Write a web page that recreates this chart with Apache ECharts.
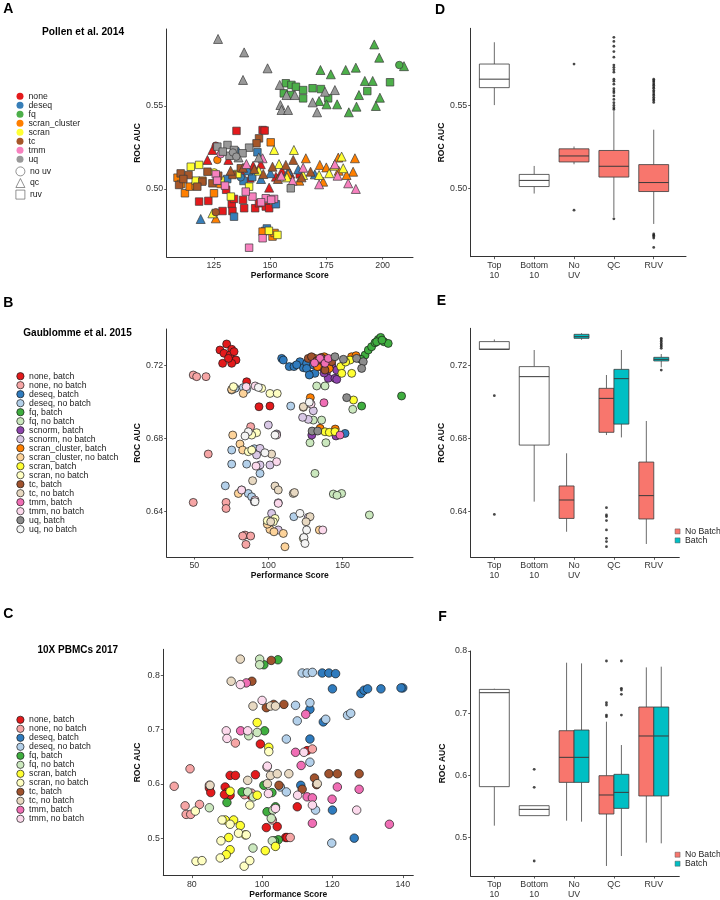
<!DOCTYPE html>
<html><head><meta charset="utf-8">
<script src="https://cdn.jsdelivr.net/npm/echarts@6/dist/echarts.min.js"></script>
<style>html,body{margin:0;padding:0;background:#fff}#c{width:720px;height:900px}</style>
</head><body><div id="c"></div>
<script>
// ---------------- Panel A data: [performance score, ROC AUC, shape] (c = no uv, t = qc, s = ruv)
const A_none = [[135.1,.5350,'s'],[146.7,.5355,'s'],[147.6,.5352,'s'],[118.5,.4924,'s'],[122.6,.4928,'s'],[128.9,.4867,'s'],[133.0,.4908,'s'],[133.3,.4867,'s'],[138.5,.4884,'s'],[143.4,.4884,'s'],[145.1,.4914,'s'],[148.1,.4894,'s'],[149.6,.4884,'s'],[138.0,.4934,'s'],[134.0,.4940,'s'],[163.2,.5088,'s'],[130.5,.4995,'s'],
  [124.4,.5235,'t'],[122.2,.5175,'t'],[131.5,.5175,'t'],[142.5,.5140,'t'],[145.9,.5149,'t'],[152.6,.5074,'t'],[149.6,.5008,'t'],[137.2,.5102,'t'],[155.3,.5110,'t'],[159.0,.5092,'t'],[141.0,.5068,'t'],[125.9,.5261,'c']];
const A_deseq = [[144.4,.5221,'s'],[134.0,.4833,'s'],[147.8,.4747,'s'],[152.6,.4908,'s'],[148.6,.4762,'s'],[138.2,.5048,'s'],[142.1,.5072,'s'],[131.0,.5060,'s'],
  [119.2,.4819,'t'],[169.9,.5088,'t'],[140.3,.5112,'t'],[150.2,.5095,'t'],[136.0,.5225,'t'],[158.1,.5108,'t'],[146.0,.5060,'t'],[162.5,.5118,'t'],[137.0,.5070,'c']];
const A_fq = [[157.0,.5637,'s'],[159.5,.5627,'s'],[161.5,.5616,'s'],[156.1,.5576,'s'],[159.1,.5566,'s'],[164.7,.5596,'s'],[164.7,.5546,'s'],[168.9,.5607,'s'],[172.6,.5602,'s'],[175.8,.5546,'s'],[193.2,.5590,'s'],[203.3,.5643,'s'],
  [172.4,.5717,'t'],[177.0,.5691,'t'],[183.6,.5717,'t'],[188.1,.5731,'t'],[196.3,.5871,'t'],[198.5,.5791,'t'],[192.1,.5651,'t'],[195.6,.5651,'t'],[189.5,.5566,'t'],[198.8,.5550,'t'],[197.0,.5500,'t'],[188.4,.5496,'t'],[185.0,.5462,'t'],[179.8,.5510,'t'],[175.1,.5510,'t'],[171.8,.5530,'t'],[209.5,.5740,'t'],[207.4,.5747,'c']];
const A_scran_cluster = [[150.3,.5281,'s'],[108.9,.5068,'s'],[112.2,.4974,'s'],[114.3,.5014,'s'],[117.0,.5020,'s'],[125.1,.4974,'s'],[151.1,.4713,'s'],[146.7,.4743,'s'],[110.5,.5030,'s'],[120.0,.5050,'s'],[128.0,.5030,'s'],[152.0,.4735,'s'],
  [125.9,.4823,'t'],[187.7,.5185,'t'],[180.3,.5189,'t'],[165.9,.5185,'t'],[172.1,.5145,'t'],[186.9,.5104,'t'],[173.6,.5044,'t'],[184.0,.5084,'t'],[158.0,.5090,'t'],[175.0,.5130,'t'],[163.0,.5050,'t'],[180.5,.5110,'t'],[126.6,.5175,'c']];
const A_scran = [[114.8,.5134,'s'],[118.5,.5145,'s'],[132.6,.4954,'s'],[140.7,.5014,'s'],[153.3,.4723,'s'],[149.5,.4748,'s'],[117.0,.5050,'s'],[128.0,.5050,'s'],[135.5,.5090,'s'],
  [124.4,.4853,'t'],[151.8,.5235,'t'],[160.6,.5235,'t'],[181.8,.5195,'t'],[182.5,.5125,'t'],[176.3,.5095,'t'],[171.8,.5084,'t'],[164.7,.5084,'t'],[154.0,.5150,'t'],[145.0,.5110,'t'],[178.5,.5140,'t'],[157.5,.5070,'t'],[125.2,.5100,'c']];
const A_tc = [[145.1,.5305,'s'],[144.0,.5275,'s'],[110.3,.5094,'s'],[109.6,.5024,'s'],[113.8,.5084,'s'],[122.2,.5104,'s'],[124.4,.5034,'s'],[119.9,.5044,'s'],[117.7,.5014,'s'],[137.0,.5125,'s'],[133.3,.5084,'s'],[127.0,.5080,'s'],[111.5,.5060,'s'],
  [138.0,.5128,'t'],[151.1,.5134,'t'],[157.0,.5145,'t'],[168.0,.5104,'t'],[160.3,.5175,'t'],[147.0,.5090,'t'],[164.0,.5070,'t'],[132.5,.5110,'t'],[143.0,.5120,'t'],[153.5,.5060,'t'],[125.9,.4860,'c']];
const A_tmm = [[125.9,.5088,'s'],[126.5,.5050,'s'],[142.2,.4954,'s'],[148.1,.4944,'s'],[140.7,.4646,'s'],[146.7,.4703,'s'],[151.8,.4940,'s'],[139.2,.4984,'s'],[146.0,.4920,'s'],[130.0,.5020,'s'],[150.5,.4935,'s'],
  [146.7,.5185,'t'],[178.8,.5149,'t'],[171.8,.5028,'t'],[184.7,.5034,'t'],[188.1,.5000,'t'],[164.7,.5128,'t'],[155.0,.5080,'t'],[160.0,.5050,'t'],[180.0,.5080,'t'],[139.5,.5150,'t'],[128.1,.5209,'c']];
const A_uq = [[126.6,.5255,'s'],[131.1,.5265,'s'],[134.0,.5235,'s'],[140.7,.5249,'s'],[137.8,.5215,'s'],[159.2,.5004,'s'],[132.0,.5200,'s'],[129.0,.5225,'s'],
  [126.9,.5904,'t'],[138.5,.5823,'t'],[148.9,.5727,'t'],[138.0,.5657,'t'],[154.3,.5627,'t'],[154.6,.5506,'t'],[155.1,.5476,'t'],[158.0,.5476,'t'],[157.3,.5566,'t'],[161.0,.5566,'t'],[168.9,.5522,'t'],[170.9,.5462,'t'],[174.4,.5586,'t'],[178.8,.5596,'t'],[145.0,.5190,'t'],[136.0,.5190,'t'],
  [133.5,.5220,'c'],[135.0,.5195,'c']];
const A_methods = ['none','deseq','fq','scran_cluster','scran','tc','tmm','uq'];
const A_shapes = ['no uv','qc','ruv'];
const A_x_ticks = [125,150,175,200];
const A_y_ticks = [0.50,0.55];

// ---------------- Panel B data: [performance score, ROC AUC]
const B_none_batch = [[67.3,.7286],[71.8,.7319],[75.2,.7290],[70.0,.7268],[74.1,.7258],[78.1,.7231],[69.1,.7213],[75.2,.7213],[73.0,.7240],[76.8,.7277],[85.3,.7112],[93.6,.6975],[101.0,.6979]];
const B_none_nobatch = [[49.3,.7149],[51.6,.7140],[57.9,.7140],[59.4,.6716],[49.3,.6451],[71.4,.6451],[71.4,.6418],[84.2,.6272],[82.6,.6267],[88.0,.6267],[84.8,.6221],[88.0,.6866]];
const B_deseq_batch = [[108.9,.7240],[110.0,.7231],[114.0,.7195],[117.2,.7195],[121.2,.7222],[123.5,.7189],[125.7,.7213],[128.0,.7153],[130.2,.7204],[125.7,.7185],[131.3,.7158],[151.6,.6829],[119.0,.7205],[127.5,.7149]];
const B_deseq_nobatch = [[77.5,.7076],[75.2,.7067],[85.3,.7070],[115.0,.6979],[75.2,.6738],[75.2,.6661],[85.3,.6661],[94.3,.6610],[70.9,.6542],[86.4,.6500],[88.7,.6482],[117.1,.6373],[83.0,.7080],[90.5,.6745]];
const B_fq_batch = [[165.1,.7258],[167.3,.7286],[169.5,.7304],[171.8,.7326],[174.0,.7344],[175.6,.7355],[177.8,.7331],[180.7,.7322],[172.9,.7331],[162.3,.7235],[189.7,.7034],[162.8,.6979],[176.5,.7340]];
const B_fq_nobatch = [[132.5,.7089],[138.1,.7089],[130.2,.6902],[135.8,.6902],[128.0,.6778],[138.7,.6778],[131.3,.6610],[143.7,.6497],[149.3,.6500],[168.0,.6382],[156.8,.6961],[146.2,.6490]];
const B_scnorm_batch = [[135.8,.7222],[134.7,.7195],[139.2,.7167],[140.3,.7131],[144.8,.7131],[132.5,.7204],[142.6,.7204],[146.0,.7176],[146.0,.7125],[129.2,.6820],[145.5,.6815],[137.5,.7160]];
const B_scnorm_nobatch = [[99.9,.6875],[105.5,.6826],[94.3,.6747],[92.0,.6711],[101.0,.6656],[94.3,.6656],[81.9,.6519],[90.5,.6455],[102.1,.6391],[106.6,.6449],[126.8,.6369],[106.6,.6300],[130.2,.6953],[126.8,.6906],[123.0,.6917]];
const B_scranc_batch = [[131.3,.7240],[137.6,.7249],[140.9,.7185],[156.0,.7249],[128.2,.7025],[145.0,.6853],[134.8,.6857],[159.0,.7255],[133.0,.7195]];
const B_scranc_nobatch = [[75.2,.7070],[83.0,.7048],[80.8,.6771],[75.9,.6820],[82.6,.6738],[79.7,.6500],[101.0,.6303],[103.7,.6290],[99.2,.6332],[110.0,.6281],[123.5,.6972],[134.3,.6300],[111.1,.6208]];
const B_scran_batch = [[148.7,.7195],[156.1,.7158],[149.4,.7158],[155.0,.7231],[157.3,.7012],[138.1,.6838],[141.0,.6835],[144.8,.6838],[152.0,.7220]];
const B_scran_nobatch = [[76.4,.7085],[95.4,.7076],[101.0,.7048],[92.0,.6833],[88.7,.6820],[86.4,.6729],[88.7,.6738],[104.4,.6363],[103.3,.6345],[99.2,.6351],[105.9,.7048],[123.5,.6254]];
const B_tc_batch = [[126.8,.7240],[129.0,.7249],[142.6,.7222],[138.1,.7176],[132.5,.7226],[135.5,.7245]];
const B_tc_nobatch = [[116.7,.6500],[104.4,.6541],[106.6,.6519],[89.3,.6570],[128.0,.6373],[125.3,.6345],[101.5,.6345],[123.5,.6975],[102.1,.6716],[117.5,.6505]];
const B_tmm_batch = [[134.7,.7240],[138.1,.7213],[140.3,.7240],[137.4,.6997],[148.2,.6820],[131.0,.7215]];
const B_tmm_nobatch = [[91.0,.7089],[105.5,.6820],[91.6,.6650],[105.5,.6674],[81.9,.6519],[90.9,.6464],[106.6,.6446],[136.6,.6300],[128.7,.6990],[85.0,.7085]];
const B_uq_batch = [[144.8,.7249],[159.4,.7240],[163.9,.7222],[162.8,.7185],[152.7,.7025],[129.4,.6842],[133.2,.6842],[150.5,.7235]];
const B_uq_nobatch = [[93.2,.7081],[86.4,.6838],[104.4,.6820],[84.2,.6815],[97.6,.6723],[121.2,.6391],[123.9,.6259],[125.7,.6300],[90.9,.6455],[124.6,.6226],[127.5,.7000]];
const B_x_ticks = [50,100,150];
const B_y_ticks = [0.64,0.68,0.72];

// ---------------- Panel C data
const C_none_batch = [[90.9,.6156],[92.4,.6156],[98.1,.6169],[89.5,.5943],[85.0,.5925],[85.4,.5840],[90.0,.5840],[90.9,.5791],[89.3,.5803],[99.5,.6735],[112.8,.6613],[96.7,.5791],[110.0,.5578],[101.2,.5195],[104.3,.5213],[106.7,.5012],[107.1,.5012]];
const C_none_nobatch = [[75.0,.5956],[79.5,.6278],[78.1,.5596],[78.4,.5438],[82.2,.5621],[79.7,.5438],[85.0,.5974],[92.4,.6753],[102.9,.5335],[114.3,.6643],[108.0,.5012],[97.0,.5830],[95.0,.5800]];
const C_deseq_batch = [[117.1,.8043],[119.0,.8043],[120.9,.8031],[120.0,.7751],[128.1,.7666],[129.0,.7727],[130.0,.7751],[133.8,.7751],[140.0,.7769],[139.5,.7769],[113.6,.7374],[117.4,.7142],[113.6,.6826],[111.0,.5974],[120.0,.5517],[126.2,.5000]];
const C_deseq_nobatch = [[111.4,.8043],[112.8,.8043],[114.3,.8055],[109.5,.7447],[113.6,.7495],[110.0,.7161],[118.1,.7191],[124.3,.7264],[125.2,.7301],[106.9,.6826],[113.6,.6400],[105.2,.5943],[115.2,.5517],[119.8,.4909],[106.9,.5852]];
const C_fq_batch = [[104.5,.8287],[100.5,.8195],[100.7,.6978],[94.3,.5852],[90.0,.5657],[101.4,.5487],[103.8,.5578],[102.8,.5840],[104.6,.4970],[100.5,.5974],[103.5,.4950]];
const C_fq_nobatch = [[99.3,.8299],[99.3,.8195],[96.2,.6887],[98.6,.6948],[85.0,.5560],[103.1,.5517],[102.6,.5365],[97.4,.4817],[102.9,.4951],[95.9,.5852],[97.5,.5760]];
const C_scran_batch = [[98.6,.7130],[101.9,.6674],[90.9,.5864],[89.5,.5335],[91.9,.5335],[93.8,.5231],[95.2,.5061],[90.5,.5012],[90.9,.4787],[89.8,.4696],[100.9,.4769],[103.8,.4848],[98.6,.5791]];
const C_scran_nobatch = [[81.0,.5499],[88.6,.5335],[90.9,.5256],[93.3,.5091],[95.5,.5061],[88.3,.4951],[88.1,.4635],[81.2,.4574],[82.9,.4586],[94.9,.4483],[96.5,.4586],[101.9,.6595],[96.5,.5609]];
const C_tc_batch = [[102.6,.8275],[97.1,.7891],[101.2,.7404],[106.2,.7465],[103.3,.7465],[114.9,.6108],[115.5,.5986],[119.0,.6187],[121.4,.6187],[127.6,.6187],[111.4,.5901],[104.8,.5974]];
const C_tc_nobatch = [[93.8,.8299],[91.2,.7891],[97.4,.7434],[102.4,.7434],[103.8,.7434],[101.4,.6309],[102.4,.6156],[104.3,.6187],[107.6,.6187],[95.9,.6065],[101.5,.6004],[115.7,.6004],[85.2,.5974]];
const C_tmm_batch = [[95.5,.7861],[93.9,.6978],[112.4,.7282],[109.5,.6582],[111.1,.6339],[112.8,.5761],[114.3,.5743],[119.9,.5718],[121.4,.5943],[127.6,.5901],[136.2,.5256],[114.3,.5274]];
const C_tmm_nobatch = [[93.8,.7830],[100.0,.7538],[89.8,.6978],[90.0,.6838],[95.9,.6978],[110.1,.5791],[114.3,.5609],[126.9,.5517],[101.8,.5822],[101.5,.6327],[103.8,.5548],[111.9,.6582]];
const C_x_ticks = [80,100,120,140];
const C_y_ticks = [0.5,0.6,0.7,0.8];

// ---------------- Box plots: [lower whisker, Q1, median, Q3, upper whisker]
const box_labels = ['Top\n10','Bottom\n10','No\nUV','QC','RUV'];
const D_white = [[0.5502,0.5607,0.5658,0.5749,0.5880],[0.4970,0.5012,0.5049,0.5085,0.5136]];
const D_red = [[0.5146,0.5160,0.5196,0.5239,0.5253],[0.4828,0.5069,0.5134,0.5229,0.5466],[0.4787,0.4982,0.5036,0.5144,0.5354]];
const D_out_noUV = [0.5749,0.4870];
const D_out_QC = [0.5910,0.5885,0.5856,0.5824,0.5790,0.5743,0.5729,0.5715,0.5700,0.5658,0.5646,0.5628,0.5601,0.5587,0.5577,0.5557,0.5536,0.5516,0.5500,0.5486,0.5476,0.4818];
const D_out_RUV = [0.5658,0.5649,0.5641,0.5630,0.5622,0.5611,0.5603,0.5590,0.5581,0.5569,0.5560,0.5549,0.5538,0.5530,0.5518,0.4727,0.4719,0.4712,0.4702,0.4646];
const D_y_ticks = [0.50,0.55];

const E_white = [[0.7289,0.7289,0.7291,0.7332,0.7344],[0.6455,0.6765,0.7140,0.7195,0.7286]];
const E_nobatch = [[0.6290,0.6363,0.6464,0.6541,0.6720],[0.6820,0.6835,0.7021,0.7076,0.7149],[0.6223,0.6360,0.6488,0.6672,0.6897]];
const E_batch = [[0.7342,0.7350,0.7359,0.7372,0.7378],[0.6807,0.6880,0.7129,0.7180,0.7286],[0.7191,0.7226,0.7235,0.7246,0.7264]];
const E_out_top10 = [0.7036,0.6385];
const E_out_noUV_batch = [0.7459,0.7426];
const E_out_QC_nobatch = [0.6422,0.6382,0.6373,0.6351,0.6300,0.6254,0.6236,0.6208];
const E_out_RUV_batch = [0.7350,0.7341,0.7332,0.7322,0.7313,0.7305,0.7295,0.7176];

const F_white = [[0.5193,0.5820,0.7330,0.7383,0.7394],[0.5354,0.5354,0.5455,0.5514,0.5514]];
const F_nobatch = [[0.5273,0.5889,0.6291,0.6719,0.7812],[0.4545,0.5380,0.5686,0.5996,0.6864],[0.4920,0.5670,0.6634,0.7100,0.7737]];
const F_batch = [[0.5257,0.5889,0.6291,0.6730,0.7801],[0.4705,0.5471,0.5728,0.6018,0.6489],[0.4909,0.5670,0.6634,0.7100,0.7748]];
const F_out_bottom10 = [0.6098,0.5809,0.4625];
const F_out_QC_nobatch = [0.7839,0.7169,0.7132,0.6971,0.6944];
const F_out_QC_batch = [0.7839,0.7400,0.7373,0.7303,0.6971];
const F_y_ticks = [0.5,0.6,0.7,0.8];

// ---------------- styling / build
const FONT = '"Liberation Sans", Arial, Helvetica, sans-serif';
const A_colors = ['#E41A1C','#377EB8','#4DAF4A','#FF7F00','#FFFF33','#A65628','#F781BF','#999999'];
const A_data = [A_none,A_deseq,A_fq,A_scran_cluster,A_scran,A_tc,A_tmm,A_uq];
const SHAPE = {c:'circle', t:'triangle', s:'rect'};
const SIZE = {c:7.5, t:9, s:7.5};

const B_names = ['none, batch','none, no batch','deseq, batch','deseq, no batch','fq, batch','fq, no batch','scnorm, batch','scnorm, no batch','scran_cluster, batch','scran_cluster, no batch','scran, batch','scran, no batch','tc, batch','tc, no batch','tmm, batch','tmm, no batch','uq, batch','uq, no batch'];
const B_colors = ['#E31A1C','#F6A5A5','#2F7BBE','#B3D0EA','#3FAE3F','#CBE8BE','#8E44AD','#D9C8E6','#FF7F00','#FDD39A','#FFFF33','#FFFFC2','#A0522D','#E8D9C2','#F06EB5','#FCD9EC','#8C8C8C','#F4F4F4'];
const B_data = [B_none_batch,B_none_nobatch,B_deseq_batch,B_deseq_nobatch,B_fq_batch,B_fq_nobatch,B_scnorm_batch,B_scnorm_nobatch,B_scranc_batch,B_scranc_nobatch,B_scran_batch,B_scran_nobatch,B_tc_batch,B_tc_nobatch,B_tmm_batch,B_tmm_nobatch,B_uq_batch,B_uq_nobatch];
const C_names = ['none, batch','none, no batch','deseq, batch','deseq, no batch','fq, batch','fq, no batch','scran, batch','scran, no batch','tc, batch','tc, no batch','tmm, batch','tmm, no batch'];
const C_data = [C_none_batch,C_none_nobatch,C_deseq_batch,C_deseq_nobatch,C_fq_batch,C_fq_nobatch,C_scran_batch,C_scran_nobatch,C_tc_batch,C_tc_nobatch,C_tmm_batch,C_tmm_nobatch];
const colorOf = n => B_colors[B_names.indexOf(n)];

const RED = '#F8766D', TEAL = '#00BFC4';
const AXC = '#333';

function valAxis(grid, min, max, ticks, fmt, extra) {
  return Object.assign({
    type:'value', gridIndex:grid, min, max,
    axisLine:{show:true, onZero:false, lineStyle:{color:AXC, width:1}},
    axisTick:{show:true, length:2.5, customValues:ticks, lineStyle:{color:AXC, width:0.8}},
    axisLabel:{customValues:ticks, formatter:fmt, fontSize:8.8, color:'#333', fontFamily:FONT, margin:3.5, lineHeight:10},
    splitLine:{show:false}
  }, extra||{});
}
const nameStyle = {fontSize:8.5, fontWeight:'bold', color:'#111', fontFamily:FONT};
const yName = gap => ({name:'ROC AUC', nameLocation:'middle', nameGap:gap, nameTextStyle:nameStyle});
const xName = gap => ({name:'Performance Score', nameLocation:'middle', nameGap:gap, nameTextStyle:nameStyle});
const catFmt = v => box_labels[Math.round(v)-1];

const grid = [
  {left:166.7, top:29, width:246.3, height:228},     // A
  {left:470.7, top:28.3, width:215.3, height:228.4}, // D
  {left:166.7, top:329, width:246.3, height:228},    // B
  {left:470.7, top:328.3, width:208.6, height:229},  // E
  {left:163.3, top:649.3, width:250, height:228.4},  // C
  {left:470.7, top:651, width:208.6, height:225}     // F
];
const xAxis = [
  valAxis(0, 104.1, 213.5, A_x_ticks, v=>String(v), xName(12.5)),
  valAxis(1, 0.407, 5.81, [1,2,3,4,5], catFmt),
  valAxis(2, 31.4, 197.4, B_x_ticks, v=>String(v), xName(12)),
  valAxis(3, 0.407, 5.64, [1,2,3,4,5], catFmt),
  valAxis(4, 71.9, 143, C_x_ticks, v=>String(v), xName(11)),
  valAxis(5, 0.407, 5.64, [1,2,3,4,5], catFmt)
];
const yAxis = [
  valAxis(0, 0.459, 0.5964, A_y_ticks, v=>v.toFixed(2), yName(24)),
  valAxis(1, 0.459, 0.5964, D_y_ticks, v=>v.toFixed(2), yName(24)),
  valAxis(2, 0.6152, 0.7401, B_y_ticks, v=>v.toFixed(2), yName(24)),
  valAxis(3, 0.615, 0.7405, B_y_ticks, v=>v.toFixed(2), yName(24)),
  valAxis(4, 0.431, 0.848, C_y_ticks, v=>v.toFixed(1), yName(21)),
  valAxis(5, 0.4384, 0.8, F_y_ticks, v=>v.toFixed(1), yName(24))
];

const series = [];
A_methods.forEach((m,i)=>series.push({
  type:'scatter', name:m, xAxisIndex:0, yAxisIndex:0, symbol:'circle',
  itemStyle:{color:A_colors[i], borderColor:'#3a3a3a', borderWidth:0.7, opacity:1},
  data:A_data[i].map(p=>({value:[p[0],p[1]], symbol:SHAPE[p[2]], symbolSize:SIZE[p[2]]}))
}));
A_shapes.forEach((s,i)=>series.push({type:'scatter', name:s, xAxisIndex:0, yAxisIndex:0, symbol:['circle','triangle','rect'][i], data:[], itemStyle:{color:'#fff', borderColor:'#555', borderWidth:0.8}}));
B_names.forEach((n,i)=>series.push({
  type:'scatter', name:n, xAxisIndex:2, yAxisIndex:2, symbol:'circle', symbolSize:8,
  itemStyle:{color:B_colors[i], borderColor:'#1a1a1a', borderWidth:0.7, opacity:1}, data:B_data[i]
}));
C_names.forEach((n,i)=>series.push({
  type:'scatter', name:n, xAxisIndex:4, yAxisIndex:4, symbol:'circle', symbolSize:8.5,
  itemStyle:{color:colorOf(n), borderColor:'#1a1a1a', borderWidth:0.7, opacity:1}, data:C_data[i]
}));

function boxSeries(name, axis, items, fill) {
  return {
    type:'custom', name, xAxisIndex:axis, yAxisIndex:axis, itemStyle:{color:fill},
    data:items,
    renderItem(params, api) {
      const x=api.value(0), lo=api.value(1), q1=api.value(2), md=api.value(3), q3=api.value(4), hi=api.value(5), w=api.value(6);
      const a=api.coord([x-w/2,q3]), b=api.coord([x+w/2,q1]);
      const m1=api.coord([x-w/2,md]), m2=api.coord([x+w/2,md]);
      const t=api.coord([x,hi]), bt=api.coord([x,lo]);
      const cx=api.coord([x,md])[0];
      return {type:'group', children:[
        {type:'line', shape:{x1:cx,y1:t[1],x2:cx,y2:a[1]}, style:{stroke:'#6b6b6b', lineWidth:1}},
        {type:'line', shape:{x1:cx,y1:b[1],x2:cx,y2:bt[1]}, style:{stroke:'#6b6b6b', lineWidth:1}},
        {type:'rect', shape:{x:a[0],y:a[1],width:b[0]-a[0],height:b[1]-a[1]}, style:{fill, stroke:'#3a3a3a', lineWidth:0.8}},
        {type:'line', shape:{x1:m1[0],y1:m1[1],x2:m2[0],y2:m2[1]}, style:{stroke:'#3a3a3a', lineWidth:1}}
      ]};
    }
  };
}
const W = 0.75, H = W/2, OFF = W/4;
const mk = (stats, pos, w) => stats.map((s,i)=>[pos[i], ...s, w]);
function outl(axis, pos, vals) {
  return {type:'scatter', xAxisIndex:axis, yAxisIndex:axis, symbolSize:2.8, itemStyle:{color:'#1a1a1a'}, data:vals.map(v=>[pos,v])};
}
// D
series.push(boxSeries('D_white', 1, mk(D_white,[1,2],W), '#fff'));
series.push(boxSeries('D_red', 1, mk(D_red,[3,4,5],W), RED));
series.push(outl(1,3,D_out_noUV), outl(1,4,D_out_QC), outl(1,5,D_out_RUV));
// E
series.push(boxSeries('E_white', 3, mk(E_white,[1,2],W), '#fff'));
series.push(boxSeries('No Batch', 3, mk(E_nobatch,[3-OFF,4-OFF,5-OFF],H), RED));
series.push(boxSeries('Batch', 3, mk(E_batch,[3+OFF,4+OFF,5+OFF],H), TEAL));
series.push(outl(3,1,E_out_top10), outl(3,3+OFF,E_out_noUV_batch), outl(3,4-OFF,E_out_QC_nobatch), outl(3,5+OFF,E_out_RUV_batch));
// F
series.push(boxSeries('F_white', 5, mk(F_white,[1,2],W), '#fff'));
series.push(boxSeries('No Batch', 5, mk(F_nobatch,[3-OFF,4-OFF,5-OFF],H), RED));
series.push(boxSeries('Batch', 5, mk(F_batch,[3+OFF,4+OFF,5+OFF],H), TEAL));
series.push(outl(5,2,F_out_bottom10), outl(5,4-OFF,F_out_QC_nobatch), outl(5,4+OFF,F_out_QC_batch));

const legTxt = {fontSize:8.7, lineHeight:8, color:'#222', fontFamily:FONT};
const legBase = {orient:'vertical', padding:0, itemGap:0, selectedMode:false, textStyle:legTxt};
const legend = [
  Object.assign({}, legBase, {left:16.5, top:91.7, itemWidth:7, itemHeight:7,
    data:A_methods.map((m,i)=>({name:m, icon:'circle', itemStyle:{color:A_colors[i], borderWidth:0}}))}),
  Object.assign({}, legBase, {left:15.5, top:166.5, itemWidth:9, itemHeight:9, itemGap:1.8,
    data:A_shapes.map((s,i)=>({name:s, icon:['circle','triangle','rect'][i], itemStyle:{color:'#fff', borderColor:'#555', borderWidth:0.8}}))}),
  Object.assign({}, legBase, {left:16.4, top:371.7, itemWidth:7.3, itemHeight:7.3,
    data:B_names.map((n,i)=>({name:n, icon:'circle', itemStyle:{color:B_colors[i], borderColor:'#1a1a1a', borderWidth:0.7}}))}),
  Object.assign({}, legBase, {left:16.4, top:715.3, itemWidth:7.3, itemHeight:7.3,
    data:C_names.map(n=>({name:n, icon:'circle', itemStyle:{color:colorOf(n), borderColor:'#1a1a1a', borderWidth:0.7}}))}),
  Object.assign({}, legBase, {left:674.8, top:526.9, itemWidth:5, itemHeight:5, textStyle:Object.assign({}, legTxt, {lineHeight:7.6}),
    data:[{name:'No Batch', icon:'rect', itemStyle:{color:RED, borderColor:'#555', borderWidth:0.5}},{name:'Batch', icon:'rect', itemStyle:{color:TEAL, borderColor:'#555', borderWidth:0.5}}]}),
  Object.assign({}, legBase, {left:674.8, top:850.2, itemWidth:5, itemHeight:5, textStyle:Object.assign({}, legTxt, {lineHeight:7.6}),
    data:[{name:'No Batch', icon:'rect', itemStyle:{color:RED, borderColor:'#555', borderWidth:0.5}},{name:'Batch', icon:'rect', itemStyle:{color:TEAL, borderColor:'#555', borderWidth:0.5}}]})
];

const txt = (s, x, y, size, align) => ({type:'text', x, y, silent:true,
  style:{text:s, fontSize:size, fontWeight:'bold', fontFamily:FONT, fill:'#000', align:align||'left', verticalAlign:'middle'}});
const graphic = [
  txt('A', 3.3, 9, 14), txt('B', 3.3, 303.3, 14), txt('C', 3.3, 613.7, 14),
  txt('D', 435, 9.8, 14), txt('E', 436.7, 301, 14), txt('F', 438.3, 616.7, 14),
  txt('Pollen et al. 2014', 83, 32, 10.2, 'center'),
  txt('Gaublomme et al. 2015', 77.5, 333.3, 10, 'center'),
  txt('10X PBMCs 2017', 77.8, 650, 10, 'center')
];

const chart = echarts.init(document.getElementById('c'), null, {renderer:'canvas'});
chart.setOption({animation:false, backgroundColor:'#fff', textStyle:{fontFamily:FONT}, grid, xAxis, yAxis, series, legend, graphic, tooltip:{show:false}});
</script></body></html>
